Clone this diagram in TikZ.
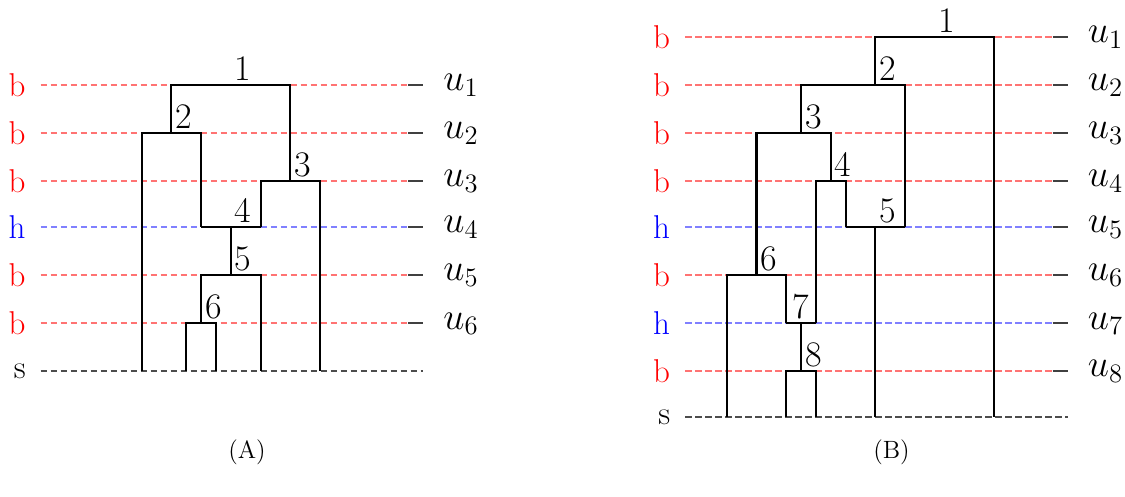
\RequirePackage{fix-cm}
\documentclass[tikz,border=0pt]{standalone}
\begin{document}
\begin{tikzpicture}[x=0.5pt,y=-0.5pt,
  tree/.style={line width=1.05pt,black,line join=miter},
  lvl/.style={line width=0.7pt,dash pattern=on 3.3pt off 1.7pt},
  lvlb/.style={lvl,red!55},
  lvlh/.style={lvl,blue!50},
  lvls/.style={lvl,black!70},
  tickmark/.style={black!75,line width=0.7pt},
  num/.style={anchor=south west,inner xsep=1.8pt,inner ysep=1.8pt,font=\fontsize{18}{20}\selectfont},
  numc/.style={num,anchor=south},
  side/.style={anchor=east,inner sep=0pt,font=\fontsize{16.5}{18}\selectfont},
  ulab/.style={anchor=base west,inner sep=0pt,font=\fontsize{19}{21}\selectfont},
  captext/.style={font=\fontsize{12.5}{14}\selectfont}]

\useasboundingbox (0,0) rectangle (1125,497);
\fill[white] (0,0) rectangle (1125,497);

% row heights
\def\Ya{37}\def\Yb{85}\def\Yc{133}\def\Yd{181}\def\Ye{227}
\def\Yf{275}\def\Yg{323}\def\Yh{371}\def\Yi{417}

% ---------------- (A) ----------------
\foreach \y/\st in {\Yb/lvlb,\Yc/lvlb,\Yd/lvlb,\Ye/lvlh,\Yf/lvlb,\Yg/lvlb,\Yh/lvls}
  \draw[\st] (40.7,\y) -- (423,\y);
\foreach \y in {\Yb,\Yc,\Yd,\Ye,\Yf,\Yg}
  \draw[tickmark] (408,\y) -- (423,\y);

\foreach \y/\t/\c/\n in {\Yb/b/red/1,\Yc/b/red/2,\Yd/b/red/3,\Ye/h/blue/4,\Yf/b/red/5,\Yg/b/red/6}{
  \node[side,text=\c] (aside\n) at (26,\y) {\t};
  \node[ulab] (au\n) at (443,\y+6) {$u_{\n}$};
}
\node[side] (asides) at (26,\Yh) {s};

\coordinate (A1) at (230.86,\Yb);
\coordinate (A2) at (171.42,\Yc);
\coordinate (A3) at (290.30,\Yd);
\coordinate (A4) at (230.86,\Ye);
\coordinate (A4L) at (201.14,\Ye);
\coordinate (A4R) at (260.58,\Ye);
\coordinate (A5) at (230.86,\Yf);
\coordinate (A6) at (201.14,\Yg);
\coordinate (Al1) at (141.70,\Yh);
\coordinate (Al2) at (186.28,\Yh);
\coordinate (Al3) at (216.00,\Yh);
\coordinate (Al4) at (260.58,\Yh);
\coordinate (Al5) at (320.02,\Yh);

\draw[tree] (A2) |- (A1) -| (A3);
\draw[tree] (Al1) |- (A2) -| (A4L);
\draw[tree] (A4R) |- (A3) -| (Al5);
\draw[tree] (A4L) -- (A4R);
\draw[tree] (A4) -- (A5);
\draw[tree] (A6) |- (A5) -| (Al4);
\draw[tree] (Al2) |- (A6) -| (Al3);

\node[num] (an1) at (A1) {1};
\node[num] (an2) at (A2) {2};
\node[num] (an3) at (A3) {3};
\node[num] (an4) at (A4) {4};
\node[num] (an5) at (A5) {5};
\node[num] (an6) at (A6) {6};

\node[captext] (capA) at (247,452) {(A)};

% ---------------- (B) ----------------
\foreach \y/\st in {\Ya/lvlb,\Yb/lvlb,\Yc/lvlb,\Yd/lvlb,\Ye/lvlh,\Yf/lvlb,\Yg/lvlh,\Yh/lvlb,\Yi/lvls}
  \draw[\st] (685.2,\y) -- (1067.5,\y);
\foreach \y in {\Ya,\Yb,\Yc,\Yd,\Ye,\Yf,\Yg,\Yh}
  \draw[tickmark] (1052.5,\y) -- (1067.5,\y);

\foreach \y/\t/\c/\n in {\Ya/b/red/1,\Yb/b/red/2,\Yc/b/red/3,\Yd/b/red/4,\Ye/h/blue/5,\Yf/b/red/6,\Yg/h/blue/7,\Yh/b/red/8}{
  \node[side,text=\c] (bside\n) at (670.5,\y) {\t};
  \node[ulab] (bu\n) at (1087.5,\y+6) {$u_{\n}$};
}
\node[side] (bsides) at (670.5,\Yi) {s};

\coordinate (B1) at (934.80,\Ya);
\coordinate (B2) at (875.36,\Yb);
\coordinate (B3) at (801.06,\Yc);
\coordinate (B4) at (830.78,\Yd);
\coordinate (B5) at (875.36,\Ye);
\coordinate (B5L) at (845.64,\Ye);
\coordinate (B5R) at (905.08,\Ye);
\coordinate (B6) at (756.48,\Yf);
\coordinate (B7) at (801.06,\Yg);
\coordinate (B7L) at (786.20,\Yg);
\coordinate (B7R) at (815.92,\Yg);
\coordinate (B8) at (801.06,\Yh);
\coordinate (Bl1) at (726.76,\Yi);
\coordinate (Bl2) at (786.20,\Yi);
\coordinate (Bl3) at (815.92,\Yi);
\coordinate (Bl4) at (875.36,\Yi);
\coordinate (Bl5) at (994.24,\Yi);

\draw[tree] (B2) |- (B1) -| (Bl5);
\draw[tree] (B3) |- (B2) -| (B5R);
\draw[tree] (B6) |- (B3) -| (B4);
\draw[tree] (B7R) |- (B4) -| (B5L);
\draw[tree] (B5L) -- (B5R);
\draw[tree] (B5) -- (Bl4);
\draw[tree] (Bl1) |- (B6) -| (B7L);
\draw[tree] (B7L) -- (B7R);
\draw[tree] (B7) -- (B8);
\draw[tree] (Bl2) |- (B8) -| (Bl3);

\node[num] (bn1) at (B1) {1};
\node[num] (bn2) at (B2) {2};
\node[num] (bn3) at (B3) {3};
\node[num] (bn4) at (B4) {4};
\node[num] (bn5) at (B5) {5};
\node[num] (bn6) at (B6) {6};
\node[numc] (bn7) at (B7) {7};
\node[num] (bn8) at (B8) {8};

\node[captext] (capB) at (891.5,452) {(B)};
\end{tikzpicture}
\end{document}
